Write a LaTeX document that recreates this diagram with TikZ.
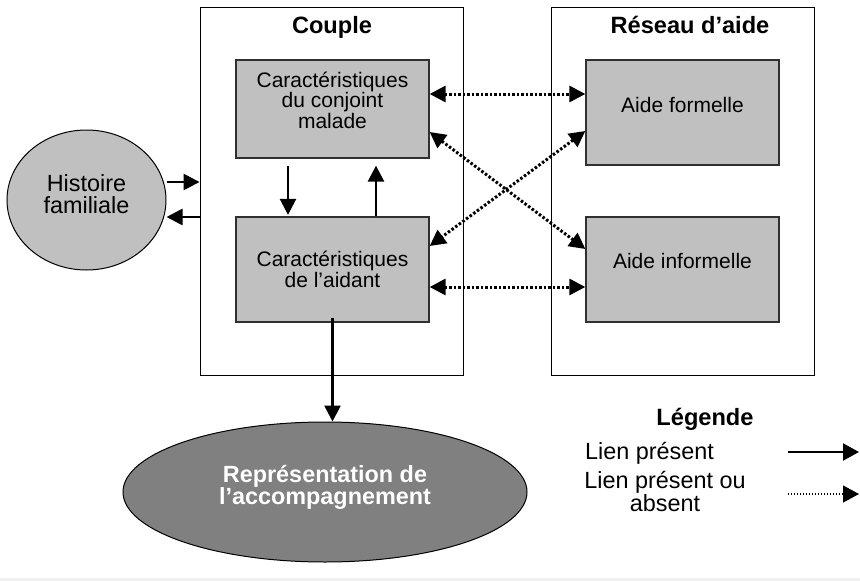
\documentclass[tikz,border=0pt]{standalone}
\usepackage{fontspec}
\setmainfont{Liberation Sans}
\usetikzlibrary{arrows.meta,shapes.geometric}
\definecolor{boxgray}{HTML}{C0C0C0}
\definecolor{darkfill}{HTML}{808080}
\definecolor{edgegray}{HTML}{303030}
\tikzset{
  outerbox/.style={draw=black, line width=0.9pt, rectangle, inner sep=0pt},
  graybox/.style={draw=edgegray, fill=boxgray, line width=1.3pt, rectangle, inner sep=0pt, minimum width=193pt},
  boxtext/.style={font=\fontsize{21}{20.5}\selectfont, align=center, inner sep=0pt, anchor=base},
  bigtext/.style={font=\fontsize{23.4}{22}\selectfont, align=center, inner sep=0pt, anchor=base},
  titletext/.style={font=\fontsize{23.6}{22}\selectfont\bfseries, inner sep=0pt, anchor=base},
  solidarrow/.style={line width=2.6pt, -{Triangle[length=16pt,width=16pt]}},
  dotarrow/.style={line width=3pt, dash pattern=on 2.5pt off 2pt, {Triangle[length=16pt,width=16pt]}-{Triangle[length=16pt,width=16pt]}},
  legsolid/.style={line width=2.2pt, -{Triangle[length=16pt,width=17pt]}},
  legdot/.style={line width=1.1pt, dash pattern=on 1.2pt off 1.8pt, -{Triangle[length=16pt,width=17pt]}},
}
\begin{document}
\begin{tikzpicture}[x=1pt,y=-1pt]
\useasboundingbox (0,0) rectangle (860,581);
\fill[black!6] (0,578) rectangle (860,581);

% outer boxes
\node[outerbox, minimum width=263pt, minimum height=368pt] (couple) at (331.5,191) {};
\node[outerbox, minimum width=263pt, minimum height=368pt] (reseau) at (682.5,191) {};
\node[titletext] (tcouple) at (332,33) {Couple};
\node[titletext] (treseau) at (690,33) {Réseau d’aide};

% gray boxes
\node[graybox, minimum height=98pt] (cm) at (332.5,109) {};
\node[graybox, minimum height=105pt] (aid) at (332.5,269.5) {};
\node[graybox, minimum height=105pt] (af) at (682.5,112.5) {};
\node[graybox, minimum height=105pt] (ai) at (682.5,269.5) {};
\node[boxtext] (tcm) at (332.5,128) {Caractéristiques\\du conjoint\\malade};
\node[boxtext] (taid) at (332.5,287) {Caractéristiques\\de l’aidant};
\node[boxtext] (taf) at (682.5,112) {Aide formelle};
\node[boxtext] (tai) at (682.5,268) {Aide informelle};

% Histoire familiale
\node[ellipse, draw=black, line width=1pt, fill=boxgray, minimum width=159pt, minimum height=140pt, inner sep=0pt] (hist) at (86.5,200) {};
\node[bigtext] (thist) at (86.5,213) {Histoire\\familiale};

% Représentation
\node[ellipse, draw=black, line width=1pt, fill=darkfill, minimum width=404pt, minimum height=140pt, inner sep=0pt] (repr) at (325,492) {};
\node[bigtext, text=white, font=\fontsize{23.4}{22}\selectfont\bfseries] (trepr) at (325,504) {Représentation de\\l’accompagnement};

% solid arrows
\draw[solidarrow] (hist.east |- 0,182) -- (couple.west |- 0,182);
\draw[solidarrow] (couple.west |- 0,217) -- (hist.east |- 0,217);
\draw[solidarrow] ([xshift=-44.5pt,yshift=-7pt]cm.south) -- ([xshift=-44.5pt,yshift=1.5pt]aid.north);
\draw[solidarrow] ([xshift=43.5pt]aid.north) -- ([xshift=43.5pt,yshift=-7pt]cm.south);
\draw[solidarrow] ([yshift=5pt]aid.south) -- (repr.north -| aid.south);

% dotted arrows
\draw[dotarrow] (cm.east |- 0,94) -- (af.west |- 0,94);
\draw[dotarrow] (cm.east |- 0,132) -- (ai.west |- 0,249);
\draw[dotarrow] (af.west |- 0,131) -- (aid.east |- 0,246);
\draw[dotarrow] (aid.east |- 0,287) -- (ai.west |- 0,287);

% legend
\node[titletext] (tleg) at (705,425) {Légende};
\node[bigtext, anchor=base west] (tl1) at (585,459) {Lien présent};
\node[bigtext, font=\fontsize{23.4}{23}\selectfont] (tl2) at (665,511) {Lien présent ou\\absent};
\coordinate (l1a) at (788,452);
\coordinate (l1b) at (859,452);
\coordinate (l2a) at (788,494);
\coordinate (l2b) at (859,494);
\draw[legsolid] (l1a) -- (l1b);
\draw[legdot] (l2a) -- (l2b);
\end{tikzpicture}
\end{document}
